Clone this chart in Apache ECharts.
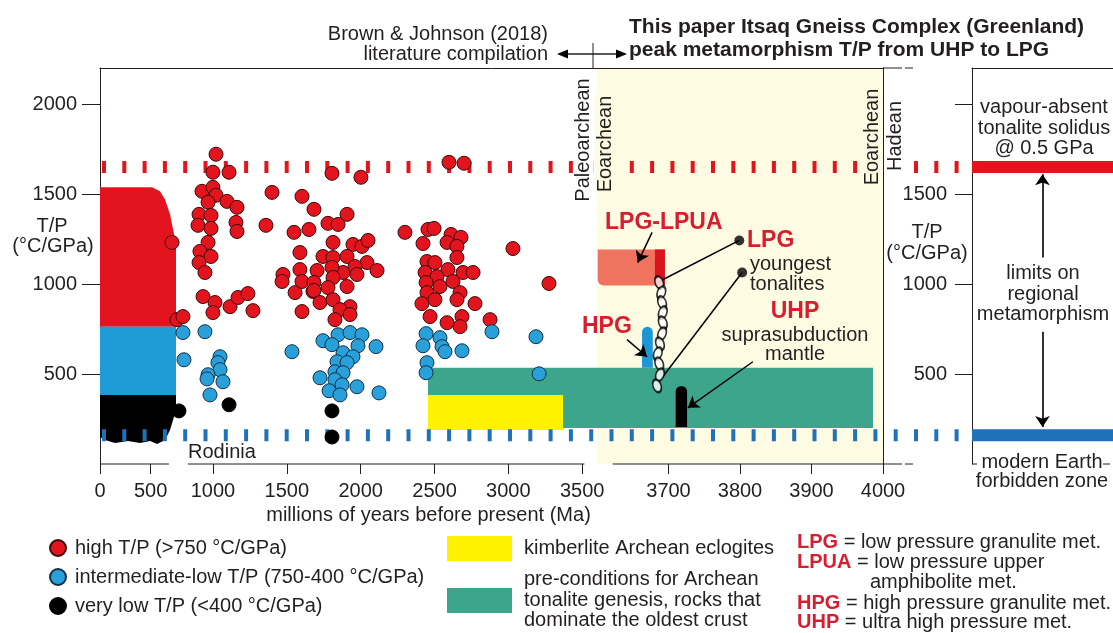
<!DOCTYPE html>
<html>
<head>
<meta charset="utf-8">
<title>T/P of metamorphism through time</title>
<script src="https://cdn.jsdelivr.net/npm/echarts@6.0.0/dist/echarts.min.js"></script>
<style>
  html, body { margin: 0; padding: 0; background: #ffffff; }
  #chart { width: 1113px; height: 633px; }
</style>
</head>
<body>
<div id="chart"></div>
<script>
// ---------- broken time axis (Ma) ----------
const SEG_A = [0, 750];
const SEG_B = [750, 3600];
const SEG_C = [3600, 4000];
const TP_RANGE = [0, 2200];

// ---------- tick values ----------
const yTicks = [500, 1000, 1500, 2000];
const rightTicks = [500, 1000, 1500, 2000];
const rightTickLabels = [500, 1000, 1500];
const xTicksA = [0, 500];
const xTicksB = [1000, 1500, 2000, 2500, 3000, 3500];
const xTicksC = [3700, 3800, 3900, 4000];

// ---------- reference T/P limits (°C/GPa) ----------
const solidusTP = 1650;
const forbiddenTP = 160;

// ---------- Brown & Johnson (2018) compilation: [age Ma, T/P] ----------
const highTP = [
  [1021,1721],[1000,1621],[1109,1621],[926,1515],[1000,1537],[1021,1493],[967,1454],[1095,1459],
  [1163,1426],[906,1387],[987,1381],[899,1326],[987,1309],[1156,1342],[1163,1292],[967,1231],
  [912,1181],[987,1153],[906,1119],[946,1064],[711,1231],[1400,1509],[1359,1326],[1474,1053],
  [1549,1287],[933,930],[1014,897],[1000,841],[1116,874],[1170,925],[1237,947],[1271,852],
  [757,802],[797,819],[1556,952],[1603,847],[1677,958],[1468,1014],
  [1806,1615],[2002,1593],[1603,1487],[1684,1415],[1908,1387],[1779,1337],[1847,1331],[1650,1303],
  [1813,1231],[1948,1220],[2009,1209],[2050,1242],[1745,1153],[1813,1147],[1908,1153],[2043,1119],
  [2111,1075],[1705,1075],[1881,1064],[1962,1097],[1806,1092],[1589,1175],[1589,1080],[1603,1014],
  [1684,1008],[1813,1036],[1975,1053],[1908,986],[1684,964],[1779,980],[1725,897],[1813,913],
  [1928,874],[1860,858],[1826,802],[1928,830],
  [2300,1287],[2456,1303],[2497,1309],[2422,1225],[2612,1275],[2679,1259],[2585,1231],[2652,1209],
  [2449,1125],[2503,1119],[2652,1147],[2591,1080],[2693,1064],[2761,1064],[2436,1064],[2517,1041],
  [2443,1008],[2537,986],[2625,1014],[2673,952],[2449,952],[2652,913],[2415,891],[2503,913],
  [2774,891],[2470,819],[2585,785],[2686,819],[2673,763],[2876,802],[3031,1197],[3275,1003],
  [2598,1676],[2700,1671]
];
const midTP = [
  [797,730],[946,735],[804,579],[1048,596],[1034,563],[1048,524],[967,496],[960,473],[1068,457],
  [980,384],[1535,624],[1745,685],[1847,718],[1928,730],[2009,718],[1806,663],[1982,657],[2104,652],
  [1881,618],[1948,596],[1840,568],[1908,563],[1826,512],[1881,507],[1725,479],[1826,468],[1874,440],
  [1786,407],[1860,384],[1975,429],[2124,395],[2443,724],[2537,702],[2422,657],[2551,652],[2571,624],
  [2686,629],[2449,563],[2443,507],[2889,735],[3187,707],[3208,501]
];
const lowTP = [[770,295],[1109,329],[1806,295],[1806,150]];

// ---------- shaded fields ----------
const youngHigh = [[0,763],[0,1537],[513,1537],[592,1515],[642,1470],[691,1387],[721,1303],[750,1220],[750,763]];
const youngMid = [[0,384],[0,763],[750,763],[750,384]];
const youngLow = [[0,384],[750,384],[750,301],[721,245],[691,189],[642,134],[563,111],[494,128],
  [395,117],[276,128],[148,117],[49,134],[0,150]];
const kimberliteBox = [2456, 3370, 189, 384];   // [from Ma, to Ma, low T/P, high T/P]
const tonaliteBox = [2456, 3986, 200, 535];

// ---------- Itsaq Gneiss Complex ----------
const lpgBox = [3601, 3695, 991, 1192];
const lpgStrip = [3681, 3695, 991, 1192];
const hpgBar = [3663, 3678, 535, 763];
const uhpBar = [3710, 3726, 206, 434];
const tpPath = [[3687,1008],[3690,952],[3691,897],[3692,841],[3692,785],[3691,724],
  [3688,668],[3685,613],[3687,557],[3688,496],[3684,434]];
const lpgPointer = [[3799,1242],[3687,1014]];
const youngestPointer = [[3803,1064],[3691,479]];
const lpuaArrow = [[3677,1287],[3657,1119]];
const hpgArrow = [[3642,691],[3670,596]];
const uhpArrow = [[3818,568],[3727,312]];
const solidusArrow = [[0.5,1147],[0.5,1610]];
const forbiddenArrow = [[0.5,735],[0.5,206]];
// visible stretches of the broken time axis: [xAxisIndex, from Ma, to Ma]
const axisRuns = [[0, 0, 680], [1, 830, 3515], [2, 3622, 4000]];

// ---------- names ----------
const NAME_HIGH = 'high T/P (>750 °C/GPa)';
const NAME_MID = 'intermediate-low T/P (750-400 °C/GPa)';
const NAME_LOW = 'very low T/P (<400 °C/GPa)';

// ---------- styling ----------
const FONT = '"Liberation Sans", Arial, Helvetica, sans-serif';
const INK = '#231f20';
const RED = '#e3141d';
const RED_TXT = '#d71e30';
const BLUE = '#2aa0da';
const BLUE_DARK = '#1f72b8';
const TEAL = '#3ea58d';
const YELLOW = '#fff200';
const CREAM = '#fefbe3';
const SALMON = '#f0735f';
const FS = 20;

const chart = echarts.init(document.getElementById('chart'), null, { renderer: 'canvas' });

const GRID_TOP = 68, GRID_H = 396;
function grid(left, width, extra) {
  return Object.assign({ left, width, top: GRID_TOP, height: GRID_H, containLabel: false, outerBoundsMode: 'none' }, extra || {});
}

const tickStyle = { color: INK, width: 1 };
const plain = v => String(v);
const labelStyle = { color: INK, fontSize: FS, fontFamily: FONT, formatter: plain };

function timeAxis(gridIndex, seg, ticks, extra) {
  return Object.assign({
    gridIndex, type: 'value', min: seg[0], max: seg[1],
    axisLine: { show: false, onZero: false },
    axisTick: { show: true, customValues: ticks, length: 10, lineStyle: tickStyle },
    axisLabel: { show: true, customValues: ticks, margin: 17, ...labelStyle },
    splitLine: { show: false }
  }, extra || {});
}
function hiddenAxis(gridIndex, range, extra) {
  return Object.assign({
    gridIndex, type: 'value', min: range[0], max: range[1],
    axisLine: { show: false, onZero: false }, axisTick: { show: false },
    axisLabel: { show: false }, splitLine: { show: false }
  }, extra || {});
}

// custom series: filled polygon in a grid
function polygonSeries(gi, pts, color, z) {
  return {
    type: 'custom', xAxisIndex: gi, yAxisIndex: gi, z, silent: true, clip: false,
    data: [0],
    renderItem(params, api) {
      return { type: 'polygon', shape: { points: pts.map(p => api.coord(p)) }, style: { fill: color } };
    }
  };
}
// custom series: box [from, to, low, high] in a grid, clipped to the grid's age range
function boxSeries(gi, box, seg, color, r, z) {
  const b = [Math.max(box[0], seg[0]), Math.min(box[1], seg[1]), box[2], box[3]];
  return {
    type: 'custom', xAxisIndex: gi, yAxisIndex: gi, z, silent: true, clip: false,
    dimensions: ['from', 'to', 'low', 'high'],
    encode: { x: [0, 1], y: [2, 3] },
    data: [b],
    renderItem(params, api) {
      const a = api.coord([api.value(0), api.value(3)]);
      const c = api.coord([api.value(1), api.value(2)]);
      return { type: 'rect', shape: { x: a[0], y: a[1], width: c[0] - a[0], height: c[1] - a[1], r: r || 0 }, style: { fill: color } };
    }
  };
}
function scatterSeries(gi, name, pts, color, border, size, z) {
  return {
    type: 'scatter', name, xAxisIndex: gi, yAxisIndex: gi, z: z || 10,
    symbol: 'circle', symbolSize: size || 14, data: pts,
    itemStyle: { color, borderColor: border, borderWidth: 1, opacity: 1 },
    emphasis: { disabled: true }
  };
}
function pointerSeries(gi, coordsList, withArrow, width) {
  return {
    type: 'lines', coordinateSystem: 'cartesian2d', xAxisIndex: gi, yAxisIndex: gi, z: 12,
    symbol: withArrow ? ['none', 'arrow'] : ['none', 'none'], symbolSize: [0, 11],
    lineStyle: { color: '#000', width: width || 1.5, opacity: 1 },
    data: coordsList.map(c => ({ coords: c })), silent: true
  };
}

const inA = p => p[0] < SEG_A[1];
const inB = p => p[0] >= SEG_B[0] && p[0] <= SEG_B[1];

const series = [
  // young Earth fields (0-750 Ma)
  polygonSeries(0, youngHigh, RED, 1),
  polygonSeries(0, youngMid, '#1f9bd7', 1),
  polygonSeries(0, youngLow, '#000', 1),
  // tonalite genesis field and kimberlite eclogites
  boxSeries(1, tonaliteBox, SEG_B, TEAL, 0, 1),
  boxSeries(2, tonaliteBox, SEG_C, TEAL, 0, 1),
  boxSeries(1, kimberliteBox, SEG_B, YELLOW, 0, 2),
  // Itsaq Gneiss Complex peak conditions
  boxSeries(2, lpgBox, SEG_C, SALMON, [0, 0, 0, 6], 3),
  boxSeries(2, lpgStrip, SEG_C, '#d9141f', 0, 4),
  boxSeries(2, hpgBar, SEG_C, '#1e96d5', [6, 6, 0, 0], 3),
  boxSeries(2, uhpBar, SEG_C, '#000', [6, 6, 0, 0], 3),
  // reference limits across the time axis
  {
    type: 'line', xAxisIndex: 3, yAxisIndex: 3, z: 5, symbol: 'none', silent: true,
    data: [[0, solidusTP], [1, solidusTP]],
    lineStyle: { color: RED, width: 12, type: [4, 16.3], cap: 'butt' }
  },
  {
    type: 'line', xAxisIndex: 3, yAxisIndex: 3, z: 5, symbol: 'none', silent: true,
    data: [[0, forbiddenTP], [1, forbiddenTP]],
    lineStyle: { color: BLUE_DARK, width: 12, type: [4, 16.3], cap: 'butt' }
  },
  // right panel limits
  {
    type: 'line', xAxisIndex: 4, yAxisIndex: 4, z: 5, symbol: 'none', silent: true,
    data: [[0, solidusTP], [1, solidusTP]], lineStyle: { color: RED, width: 12, cap: 'butt' }
  },
  {
    type: 'line', xAxisIndex: 4, yAxisIndex: 4, z: 5, symbol: 'none', silent: true,
    data: [[0, forbiddenTP], [1, forbiddenTP]], lineStyle: { color: BLUE_DARK, width: 12, cap: 'butt' }
  },
  // compilation points
  scatterSeries(0, NAME_HIGH, highTP.filter(inA), RED, '#3b0a0a'),
  scatterSeries(1, NAME_HIGH, highTP.filter(inB), RED, '#3b0a0a'),
  scatterSeries(0, NAME_MID, midTP.filter(inA), BLUE, '#0f3048'),
  scatterSeries(1, NAME_MID, midTP.filter(inB), BLUE, '#0f3048'),
  scatterSeries(0, NAME_LOW, lowTP.filter(inA), '#000', '#000'),
  scatterSeries(1, NAME_LOW, lowTP.filter(inB), '#000', '#000'),
  // pointers and arrows
  pointerSeries(2, [lpgPointer, youngestPointer], false, 1.5),
  pointerSeries(2, [lpuaArrow, hpgArrow, uhpArrow], true, 1.5),
  pointerSeries(4, [solidusArrow, forbiddenArrow], true, 1.6),
  // peak metamorphism path (chain of links)
  {
    type: 'scatter', xAxisIndex: 2, yAxisIndex: 2, z: 13, silent: true,
    symbol: 'circle', symbolSize: [8, 13], data: tpPath,
    symbolRotate: (v, p) => (p.dataIndex % 2 ? -20 : 20),
    itemStyle: { color: '#fff', borderColor: '#000', borderWidth: 2 }
  },
  {
    type: 'scatter', xAxisIndex: 2, yAxisIndex: 2, z: 14, silent: true,
    symbol: 'circle', symbolSize: 10, data: [lpgPointer[0], youngestPointer[0]],
    itemStyle: { color: '#000' }
  }
];

const T = (x, y, text, o) => ({
  type: 'text', x, y, z: 100, silent: true,
  rotation: (o && o.rotation) || 0,
  style: Object.assign({
    text, fill: INK, fontSize: FS, fontFamily: FONT,
    align: 'left', verticalAlign: 'middle'
  }, (o && o.style) || {})
});
const L = (x1, y1, x2, y2, w) => ({
  type: 'line', z: 100, silent: true,
  shape: { x1, y1, x2, y2 }, style: { stroke: INK, lineWidth: w || 1 }
});
const arrowHead = (x, y, dir) => ({
  type: 'polygon', z: 100, silent: true,
  shape: { points: dir > 0 ? [[x, y], [x - 11, y - 4.5], [x - 11, y + 4.5]] : [[x, y], [x + 11, y - 4.5], [x + 11, y + 4.5]] },
  style: { fill: '#000' }
});
const BOLD = { fontWeight: 'bold', fill: RED_TXT, fontSize: 23 };
const center = s => Object.assign({ align: 'center' }, s || {});

const rich = { r: { fill: RED_TXT, fontWeight: 'bold', fontSize: FS, fontFamily: FONT } };

const graphicStatic = [
  // headers
  T(548, 34, 'Brown & Johnson (2018)', { style: { align: 'right' } }),
  T(548, 54, 'literature compilation', { style: { align: 'right' } }),
  T(629, 27, 'This paper Itsaq Gneiss Complex (Greenland)', { style: { fontWeight: 'bold', fontSize: 21 } }),
  T(629, 50, 'peak metamorphism T/P from UHP to LPG', { style: { fontWeight: 'bold', fontSize: 21 } }),
  L(562, 54, 622, 54, 1.3), arrowHead(627, 54, 1), arrowHead(557, 54, -1), L(593, 43, 593, 68, 1),
  // axis titles for T/P
  T(52, 226, 'T/P', { style: center() }),
  T(53, 246, '(°C/GPa)', { style: center() }),
  T(927, 232, 'T/P', { style: center() }),
  T(927, 253, '(°C/GPa)', { style: center() }),
  // eon boundaries
  T(583, 140, 'Paleoarchean', { rotation: Math.PI / 2, style: center({ backgroundColor: '#fff', padding: [0, 2] }) }),
  T(605, 144, 'Eoarchean', { rotation: Math.PI / 2, style: center({ backgroundColor: CREAM, padding: [0, 2] }) }),
  T(872, 137, 'Eoarchean', { rotation: Math.PI / 2, style: center({ backgroundColor: CREAM, padding: [0, 2] }) }),
  T(895, 136, 'Hadean', { rotation: Math.PI / 2, style: center({ backgroundColor: '#fff', padding: [0, 2] }) }),
  T(188, 452, 'Rodinia'),
  // Itsaq labels
  T(605, 223, 'LPG-LPUA', { style: BOLD }),
  T(747, 241, 'LPG', { style: BOLD }),
  T(750, 264, 'youngest'),
  T(750, 284, 'tonalites'),
  T(795, 312, 'UHP', { style: center(BOLD) }),
  T(795, 335, 'suprasubduction', { style: center() }),
  T(795, 354, 'mantle', { style: center() }),
  T(582, 327, 'HPG', { style: BOLD }),
  // right panel
  T(1044, 107, 'vapour-absent', { style: center() }),
  T(1044, 128, 'tonalite solidus', { style: center() }),
  T(1044, 148, '@ 0.5 GPa', { style: center() }),
  T(1043, 273, 'limits on', { style: center() }),
  T(1043, 294, 'regional', { style: center() }),
  T(1043, 314, 'metamorphism', { style: center() }),
  T(1042, 462, 'modern Earth', { style: center() }),
  T(1042, 481, 'forbidden zone', { style: center() }),
  L(972, 464, 977, 464), L(1103, 464, 1110, 464),
  // axis end marks
  L(883, 464, 902, 464), L(905, 464, 913, 464),
  L(883, 68, 902, 68), L(905, 68, 913, 68),
  // legend: fields
  { type: 'rect', z: 100, silent: true, shape: { x: 447, y: 536, width: 65, height: 25 }, style: { fill: YELLOW } },
  { type: 'rect', z: 100, silent: true, shape: { x: 447, y: 588, width: 65, height: 25 }, style: { fill: TEAL } },
  T(524, 548, 'kimberlite Archean eclogites'),
  T(524, 579, 'pre-conditions for Archean'),
  T(524, 600, 'tonalite genesis, rocks that'),
  T(524, 620, 'dominate the oldest crust'),
  // legend: abbreviations
  T(797, 542, '{r|LPG} = low pressure granulite met.', { style: { rich } }),
  T(797, 562, '{r|LPUA} = low pressure upper', { style: { rich } }),
  T(870, 582, 'amphibolite met.'),
  T(797, 603, '{r|HPG} = high pressure granulite met.', { style: { rich } }),
  T(797, 622, '{r|UHP} = ultra high pressure met.', { style: { rich } })
];

const option = {
  animation: false,
  backgroundColor: '#fff',
  textStyle: { fontFamily: FONT, color: INK },
  grid: [
    grid(100, 76),                                                   // 0: 0-750 Ma
    grid(176, 421),                                                  // 1: 750-3600 Ma
    grid(597, 286, { show: true, backgroundColor: CREAM, borderWidth: 0 }), // 2: 3600-4000 Ma
    grid(102, 870),                                                  // 3: limit lines
    grid(972, 141),                                                  // 4: right panel
    grid(100, 783)                                                   // 5: frame
  ],
  xAxis: [
    timeAxis(0, SEG_A, xTicksA),
    timeAxis(1, SEG_B, xTicksB, {
      name: 'millions of years before present (Ma)', nameLocation: 'middle', nameGap: 38,
      nameTextStyle: { fontSize: FS, fontFamily: FONT, color: INK, padding: [0, 0, 0, 84] }
    }),
    timeAxis(2, SEG_C, xTicksC),
    hiddenAxis(3, [0, 1]),
    hiddenAxis(4, [0, 1], { position: 'top', axisLine: { show: true, onZero: false, lineStyle: tickStyle } }),
    hiddenAxis(5, [0, 1], { position: 'top', axisLine: { show: true, onZero: false, lineStyle: tickStyle } })
  ],
  yAxis: [
    {
      gridIndex: 0, type: 'value', min: TP_RANGE[0], max: TP_RANGE[1],
      axisLine: { show: true, onZero: false, lineStyle: tickStyle },
      axisTick: { show: true, customValues: yTicks, length: 18, lineStyle: tickStyle },
      axisLabel: { show: true, customValues: yTicks, margin: 23, ...labelStyle },
      splitLine: { show: false }
    },
    hiddenAxis(1, TP_RANGE),
    hiddenAxis(2, TP_RANGE),
    hiddenAxis(3, TP_RANGE),
    {
      gridIndex: 4, type: 'value', min: TP_RANGE[0], max: TP_RANGE[1],
      axisLine: { show: true, onZero: false, lineStyle: tickStyle },
      axisTick: { show: true, customValues: rightTicks, length: 17, lineStyle: tickStyle },
      axisLabel: { show: true, customValues: rightTickLabels, margin: 25, ...labelStyle },
      splitLine: { show: false }
    },
    hiddenAxis(5, TP_RANGE, { position: 'right', axisLine: { show: true, onZero: false, lineStyle: tickStyle } })
  ],
  legend: {
    data: [NAME_HIGH, NAME_MID, NAME_LOW],
    orient: 'vertical', left: 49, top: 538, padding: 0,
    itemWidth: 16, itemHeight: 16, itemGap: 9, icon: 'circle',
    selectedMode: false,
    textStyle: { fontSize: FS, fontFamily: FONT, color: INK, padding: [0, 0, 0, 4] }
  },
  series,
  graphic: graphicStatic
};

chart.setOption(option);

// broken time axis baseline, placed from the axis scales
const y0 = chart.convertToPixel({ yAxisIndex: 0 }, 0);
const baseline = axisRuns.map(([ai, a, b]) => {
  const x1 = chart.convertToPixel({ xAxisIndex: ai }, a);
  const x2 = chart.convertToPixel({ xAxisIndex: ai }, b);
  return L(x1, y0, x2, y0, 1);
});
chart.setOption({ graphic: graphicStatic.concat(baseline) });
</script>
</body>
</html>
